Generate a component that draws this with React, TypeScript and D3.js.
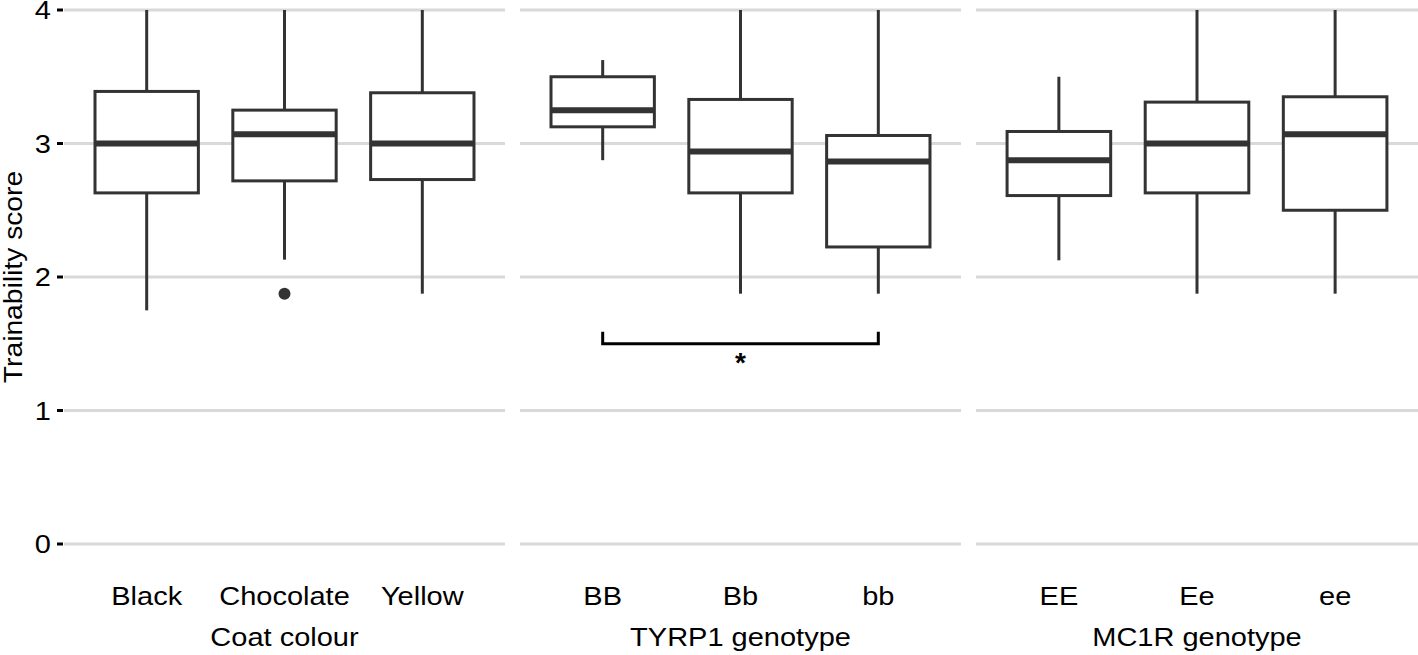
import React from "react";
import * as d3 from "d3";

// ---- data ----
const panelTitles = ["Coat colour", "TYRP1 genotype", "MC1R genotype"];
const panelCategories = [
  ["Black", "Chocolate", "Yellow"],
  ["BB", "Bb", "bb"],
  ["EE", "Ee", "ee"],
];
// [lowerWhisker, q1, median, q3, upperWhisker]
const coatStats = [
  [1.75, 2.63, 3.0, 3.39, 4.0],
  [2.13, 2.72, 3.07, 3.25, 4.0],
  [1.875, 2.73, 3.0, 3.38, 4.0],
];
const tyrp1Stats = [
  [2.875, 3.125, 3.25, 3.5, 3.625],
  [1.875, 2.63, 2.94, 3.33, 4.0],
  [1.875, 2.225, 2.865, 3.06, 4.0],
];
const mc1rStats = [
  [2.125, 2.61, 2.875, 3.09, 3.5],
  [1.875, 2.63, 3.0, 3.31, 4.0],
  [1.875, 2.5, 3.07, 3.35, 4.0],
];
const panelStats = [coatStats, tyrp1Stats, mc1rStats];
// outliers: [panel, category, value]
const outliers: [number, string, number][] = [[0, "Chocolate", 1.875]];
const yTicks = [0, 1, 2, 3, 4];
const yTitle = "Trainability score";
// significance bracket
const sigPanel = 1;
const sigFrom = "BB";
const sigTo = "bb";
const sigY = 1.5;
const sigTip = 1.59;
const sigLabel = "*";

// ---- layout ----
const W = 1418;
const H = 655;
const panelRanges: [number, number][] = [
  [64, 505],
  [520, 961],
  [976, 1418],
];
const FONT = "'Liberation Sans', Arial, Helvetica, sans-serif";
const FS = 25;
const SX = 1.16;
const BOX = "#333333";
const GRID = "#d9d9d9";

export default function App() {
  const y = d3.scaleLinear().domain([0, 4]).range([544, 10]);
  return (
    <svg
      width={W}
      height={H}
      style={{ position: "absolute", left: 0, top: 0, background: "#fff" }}
      fontFamily={FONT}
    >
      {yTicks.map((t) => (
        <g key={t}>
          <text
            transform={`translate(51,${y(t) + 0.5}) scale(${SX},1)`}
            textAnchor="end"
            dominantBaseline="central"
            fontSize={FS}
            fill="#000"
          >
            {t}
          </text>
          <line x1={57} x2={63} y1={y(t)} y2={y(t)} stroke="#000" strokeWidth={3} />
        </g>
      ))}
      <text
        transform={`translate(22,${(y(0) + y(4)) / 2}) rotate(-90) scale(1.13,1)`}
        textAnchor="middle"
        fontSize={FS}
        fill="#000"
      >
        {yTitle}
      </text>
      {panelRanges.map((range, pi) => {
        const cats = panelCategories[pi];
        const x = d3.scalePoint<string>().domain(cats).range(range).padding(0.6);
        const bw = x.step() * 0.75;
        const stats = panelStats[pi];
        return (
          <g key={pi}>
            {yTicks.map((t) => (
              <line
                key={t}
                x1={range[0]}
                x2={range[1]}
                y1={y(t)}
                y2={y(t)}
                stroke={GRID}
                strokeWidth={3}
              />
            ))}
            {cats.map((c, ci) => {
              const [lo, q1, med, q3, hi] = stats[ci];
              const cx = x(c)!;
              return (
                <g key={c}>
                  <line x1={cx} x2={cx} y1={y(hi)} y2={y(q3)} stroke={BOX} strokeWidth={3} />
                  <line x1={cx} x2={cx} y1={y(q1)} y2={y(lo)} stroke={BOX} strokeWidth={3} />
                  <rect
                    x={cx - bw / 2}
                    y={y(q3)}
                    width={bw}
                    height={y(q1) - y(q3)}
                    fill="#fff"
                    stroke={BOX}
                    strokeWidth={3}
                  />
                  <line
                    x1={cx - bw / 2}
                    x2={cx + bw / 2}
                    y1={y(med)}
                    y2={y(med)}
                    stroke={BOX}
                    strokeWidth={6}
                  />
                  <text
                    transform={`translate(${cx},${605}) scale(${SX},1)`}
                    textAnchor="middle"
                    fontSize={FS}
                    fill="#000"
                  >
                    {c}
                  </text>
                </g>
              );
            })}
            {outliers
              .filter((o) => o[0] === pi)
              .map((o, i) => (
                <circle key={i} cx={x(o[1])!} cy={y(o[2])} r={6} fill={BOX} />
              ))}
            <text
              transform={`translate(${(range[0] + range[1]) / 2},${646}) scale(${SX},1)`}
              textAnchor="middle"
              fontSize={FS}
              fill="#000"
            >
              {panelTitles[pi]}
            </text>
            {pi === sigPanel && (
              <g>
                <path
                  d={`M${x(sigFrom)},${y(sigTip)} V${y(sigY)} H${x(sigTo)} V${y(sigTip)}`}
                  fill="none"
                  stroke="#000"
                  strokeWidth={3}
                />
                <text
                  x={(x(sigFrom)! + x(sigTo)!) / 2}
                  y={y(sigY) + 28}
                  textAnchor="middle"
                  fontSize={28}
                  fontWeight="bold"
                  fill="#000"
                >
                  {sigLabel}
                </text>
              </g>
            )}
          </g>
        );
      })}
    </svg>
  );
}
